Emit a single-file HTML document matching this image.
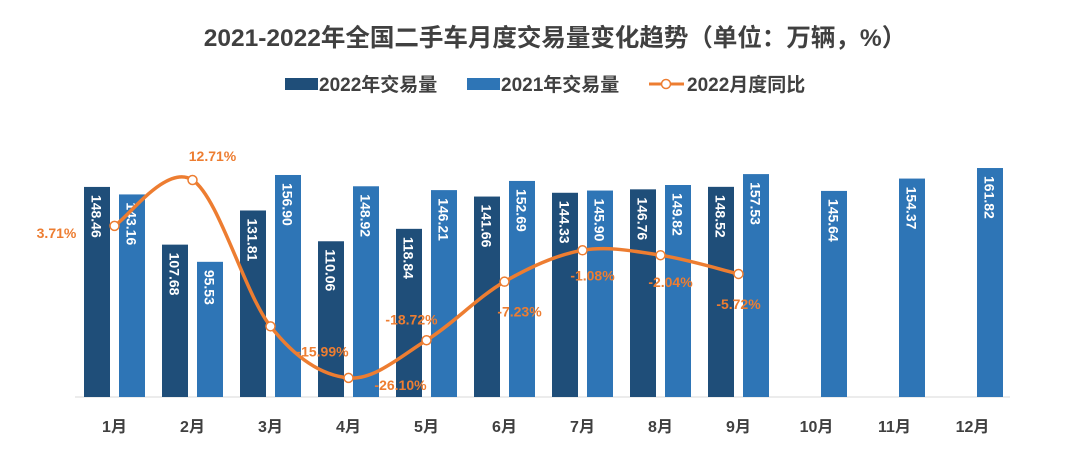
<!DOCTYPE html>
<html><head><meta charset="utf-8">
<style>
body{margin:0;background:#fff;}
svg{display:block;font-family:"Liberation Sans","Noto Sans CJK SC",sans-serif;}
</style></head>
<body>
<svg id="chart" width="1080" height="464" viewBox="0 0 1080 464" xmlns="http://www.w3.org/2000/svg">
<text x="555" y="46" text-anchor="middle" font-size="24.5" font-weight="bold" fill="#404040">2021-2022年全国二手车月度交易量变化趋势（单位：万辆，%）</text>
<g font-size="19" font-weight="bold" fill="#404040">
<g><rect x="285" y="78" width="33" height="12" fill="#1F4E79"/><text x="319" y="91">2022年交易量</text></g>
<g><rect x="467" y="78" width="33" height="12" fill="#2E75B6"/><text x="501" y="91">2021年交易量</text></g>
<g><line x1="649" y1="84" x2="684" y2="84" stroke="#ED7D31" stroke-width="3"/><circle cx="666" cy="84" r="4.5" fill="#fff" stroke="#ED7D31" stroke-width="1.5"/><text x="687" y="91">2022月度同比</text></g>
</g>
<line x1="75" y1="397" x2="1010" y2="397" stroke="#d9d9d9" stroke-width="1"/>
<g id="bars"></g><g id="line"></g><g id="xlabels"></g>
</svg>
<script>
const categories=["1月","2月","3月","4月","5月","6月","7月","8月","9月","10月","11月","12月"];
const vol2022=[148.46,107.68,131.81,110.06,118.84,141.66,144.33,146.76,148.52];
const vol2021=[143.16,95.53,156.90,148.92,146.21,152.69,145.90,149.82,157.53,145.64,154.37,161.82];
const yoy2022=[3.71,12.71,-15.99,-26.10,-18.72,-7.23,-1.08,-2.04,-5.72];
const NS="http://www.w3.org/2000/svg";
const xC=i=>114.5+78*i;
const yV=v=>397-v*1.415;
const yP=p=>244.8-p*5.1;
function mk(t,a,parent){const e=document.createElementNS(NS,t);for(const k in a)e.setAttribute(k,a[k]);parent.appendChild(e);return e;}
const gb=document.getElementById('bars');
function bar(v,cx,color,name){
  const r=mk('rect',{x:cx-13,y:yV(v),width:26,height:397-yV(v),fill:color},gb);
  
  
  const t=mk('text',{x:0,y:0,transform:`translate(${cx-5.5},${yV(v)+8}) rotate(90)`,'font-size':14,'font-weight':'bold',fill:'#fff'},gb);
  t.textContent=v.toFixed(2);
  
  
}
vol2022.forEach((v,i)=>bar(v,xC(i)-17.5,'#1F4E79','bar-2022-'+(i+1)));
vol2021.forEach((v,i)=>bar(v,xC(i)+17.5,'#2E75B6','bar-2021-'+(i+1)));
const gx=document.getElementById('xlabels');
categories.forEach((c,i)=>{
  const t=mk('text',{x:xC(i),y:432,'text-anchor':'middle','font-size':16,'font-weight':'bold',fill:'#404040'},gx);
  t.textContent=c;
  
  
});
const pts=yoy2022.map((p,i)=>[xC(i),yP(p)]);
let d=`M${pts[0][0]},${pts[0][1]}`;
for(let i=0;i<pts.length-1;i++){
  const p0=pts[Math.max(i-1,0)],p1=pts[i],p2=pts[i+1],p3=pts[Math.min(i+2,pts.length-1)];
  const k=1/6;
  d+=` C${p1[0]+(p2[0]-p0[0])*k},${p1[1]+(p2[1]-p0[1])*k} ${p2[0]-(p3[0]-p1[0])*k},${p2[1]-(p3[1]-p1[1])*k} ${p2[0]},${p2[1]}`;
}
const gl=document.getElementById('line');
const path=mk('path',{d:d,fill:'none',stroke:'#ED7D31','stroke-width':3.5},gl);


const off=[[-58,12],[20,-19],[52,30],[52,12],[-15,-16],[15,35],[10,30],[10,32],[0,35]];
pts.forEach((p,i)=>{
  const c=mk('circle',{cx:p[0],cy:p[1],r:4.5,fill:'#fff',stroke:'#ED7D31','stroke-width':1.5},gl);
  
  
  const t=mk('text',{x:p[0]+off[i][0],y:p[1]+off[i][1],'text-anchor':'middle','font-size':14,'font-weight':'bold',fill:'#ED7D31'},gl);
  t.textContent=yoy2022[i].toFixed(2)+'%';
  
  
});
</script>
</body></html>
